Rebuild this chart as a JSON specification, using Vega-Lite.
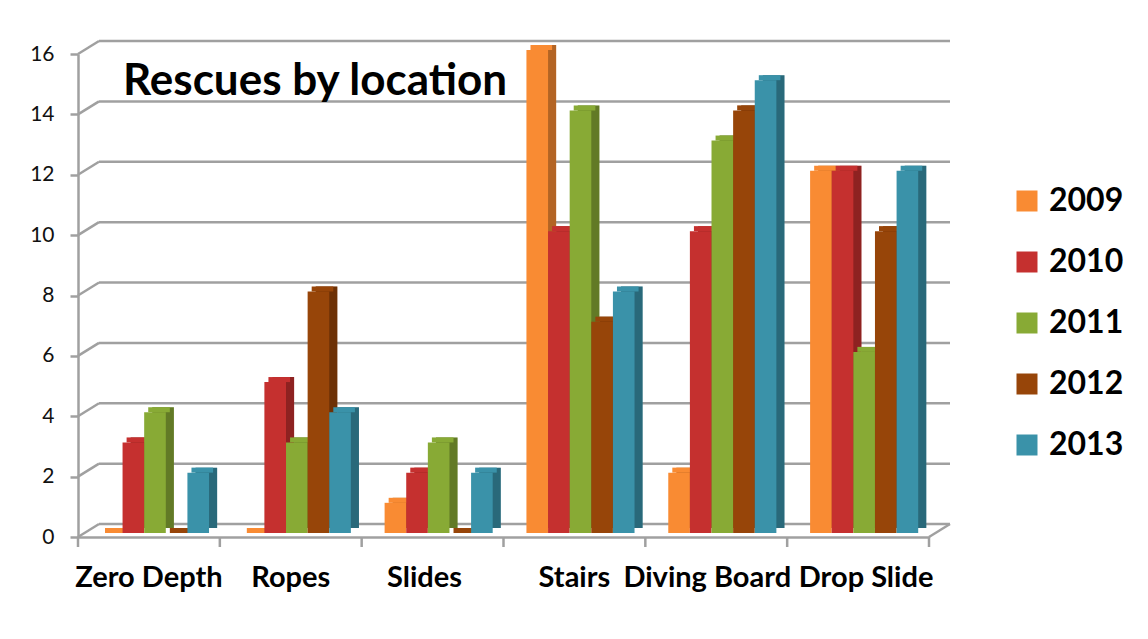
{
  "$schema": "https://vega.github.io/schema/vega-lite/v6.json",
  "width": 851,
  "height": 483,
  "autosize": {"type": "none"},
  "padding": {"left": 78, "top": 54, "right": 219, "bottom": 102},
  "background": "white",
  "config": {"view": {"stroke": null}, "font": "Lato"},
  "datasets": {
    "rescues": [
      {"location": "Zero Depth", "year": "2009", "value": 0},
      {"location": "Zero Depth", "year": "2010", "value": 3},
      {"location": "Zero Depth", "year": "2011", "value": 4},
      {"location": "Zero Depth", "year": "2012", "value": 0},
      {"location": "Zero Depth", "year": "2013", "value": 2},
      {"location": "Ropes", "year": "2009", "value": 0},
      {"location": "Ropes", "year": "2010", "value": 5},
      {"location": "Ropes", "year": "2011", "value": 3},
      {"location": "Ropes", "year": "2012", "value": 8},
      {"location": "Ropes", "year": "2013", "value": 4},
      {"location": "Slides", "year": "2009", "value": 1},
      {"location": "Slides", "year": "2010", "value": 2},
      {"location": "Slides", "year": "2011", "value": 3},
      {"location": "Slides", "year": "2012", "value": 0},
      {"location": "Slides", "year": "2013", "value": 2},
      {"location": "Stairs", "year": "2009", "value": 16},
      {"location": "Stairs", "year": "2010", "value": 10},
      {"location": "Stairs", "year": "2011", "value": 14},
      {"location": "Stairs", "year": "2012", "value": 7},
      {"location": "Stairs", "year": "2013", "value": 8},
      {"location": "Diving Board", "year": "2009", "value": 2},
      {"location": "Diving Board", "year": "2010", "value": 10},
      {"location": "Diving Board", "year": "2011", "value": 13},
      {"location": "Diving Board", "year": "2012", "value": 14},
      {"location": "Diving Board", "year": "2013", "value": 15},
      {"location": "Drop Slide", "year": "2009", "value": 12},
      {"location": "Drop Slide", "year": "2010", "value": 12},
      {"location": "Drop Slide", "year": "2011", "value": 6},
      {"location": "Drop Slide", "year": "2012", "value": 10},
      {"location": "Drop Slide", "year": "2013", "value": 12}
    ],
    "grid": [
      {"v": 0}, {"v": 2}, {"v": 4}, {"v": 6}, {"v": 8},
      {"v": 10}, {"v": 12}, {"v": 14}, {"v": 16}
    ],
    "floor": [{"v": 0}],
    "edges": [
      {"location": "Zero Depth", "v": 0},
      {"location": "Ropes", "v": 0},
      {"location": "Slides", "v": 0},
      {"location": "Stairs", "v": 0},
      {"location": "Diving Board", "v": 0},
      {"location": "Drop Slide", "v": 0}
    ],
    "heading": [{"label": "Rescues by location", "v": 16}]
  },
  "layer": [
    {
      "description": "back wall gridlines",
      "data": {"name": "grid"},
      "mark": {"type": "rule", "color": "#a0a0a0", "strokeWidth": 2.5, "xOffset": 21, "x2Offset": 21, "yOffset": -13},
      "encoding": {
        "x": {"datum": "Zero Depth", "type": "nominal", "bandPosition": 0},
        "x2": {"datum": "Drop Slide", "bandPosition": 1},
        "y": {"field": "v", "type": "quantitative"}
      }
    },
    {
      "description": "side wall connectors",
      "data": {"name": "grid"},
      "mark": {"type": "rule", "color": "#a0a0a0", "strokeWidth": 2.5, "x2Offset": 21, "y2Offset": -13},
      "encoding": {
        "x": {"datum": "Zero Depth", "type": "nominal", "bandPosition": 0},
        "x2": {"datum": "Zero Depth", "bandPosition": 0},
        "y": {"field": "v", "type": "quantitative"},
        "y2": {"field": "v"}
      }
    },
    {
      "description": "floor corner",
      "data": {"name": "floor"},
      "mark": {"type": "rule", "color": "#a0a0a0", "strokeWidth": 2.5, "x2Offset": 21, "y2Offset": -13},
      "encoding": {
        "x": {"datum": "Drop Slide", "type": "nominal", "bandPosition": 1},
        "x2": {"datum": "Drop Slide", "bandPosition": 1},
        "y": {"field": "v", "type": "quantitative"},
        "y2": {"field": "v"}
      }
    },
    {
      "description": "category boundary ticks",
      "data": {"name": "edges"},
      "mark": {"type": "rule", "color": "#a0a0a0", "strokeWidth": 2.5, "y2Offset": 10},
      "encoding": {
        "x": {"field": "location", "type": "nominal", "bandPosition": 0},
        "y": {"field": "v", "type": "quantitative"},
        "y2": {"field": "v"}
      }
    },
    {
      "description": "closing tick at the end of the category axis",
      "data": {"name": "floor"},
      "mark": {"type": "rule", "color": "#a0a0a0", "strokeWidth": 2.5, "y2Offset": 10},
      "encoding": {
        "x": {"datum": "Drop Slide", "type": "nominal", "bandPosition": 1},
        "y": {"field": "v", "type": "quantitative"},
        "y2": {"field": "v"}
      }
    },
    {
      "description": "chart heading inside the plot",
      "data": {"name": "heading"},
      "mark": {"type": "text", "align": "left", "baseline": "alphabetic", "dx": 45, "dy": 41, "font": "Lato", "fontSize": 44, "fontWeight": "bold", "color": "#000000"},
      "encoding": {
        "x": {"datum": "Zero Depth", "type": "nominal", "bandPosition": 0},
        "y": {"field": "v", "type": "quantitative"},
        "text": {"field": "label"}
      }
    },
    {
      "description": "bar side faces",
      "data": {"name": "rescues"},
      "mark": {"type": "bar", "yOffset": -9, "y2Offset": -9},
      "encoding": {
        "x": {"field": "location", "type": "nominal"},
        "xOffset": {"field": "year", "type": "nominal", "scale": {"paddingInner": 0, "paddingOuter": 0.78, "align": 0.92}},
        "y": {"field": "value", "type": "quantitative"},
        "color": {"field": "year", "type": "nominal"}
      }
    },
    {
      "description": "shading on the side faces",
      "data": {"name": "rescues"},
      "mark": {"type": "bar", "yOffset": -9, "y2Offset": -9, "color": "#000000", "opacity": 0.28},
      "encoding": {
        "x": {"field": "location", "type": "nominal"},
        "xOffset": {"field": "year", "type": "nominal", "scale": {"paddingInner": 0, "paddingOuter": 0.78, "align": 0.92}},
        "y": {"field": "value", "type": "quantitative"}
      }
    },
    {
      "description": "bar top faces",
      "data": {"name": "rescues"},
      "mark": {"type": "bar", "yOffset": -9, "y2Offset": -4},
      "encoding": {
        "x": {"field": "location", "type": "nominal"},
        "xOffset": {"field": "year", "type": "nominal", "scale": {"paddingInner": 0, "paddingOuter": 0.78, "align": 0.8}},
        "y": {"field": "value", "type": "quantitative"},
        "y2": {"field": "value"},
        "color": {"field": "year", "type": "nominal"}
      }
    },
    {
      "description": "bar front faces",
      "data": {"name": "rescues"},
      "mark": {"type": "bar", "yOffset": -4, "y2Offset": -4},
      "encoding": {
        "x": {
          "field": "location",
          "type": "nominal",
          "title": null,
          "scale": {"domain": ["Zero Depth", "Ropes", "Slides", "Stairs", "Diving Board", "Drop Slide"], "paddingInner": 0, "paddingOuter": 0},
          "axis": {
            "labelAngle": 0,
            "labelAlign": "center",
            "labelFont": "Lato",
            "labelFontSize": 29,
            "labelFontWeight": "bold",
            "labelColor": "#000000",
            "labelPadding": 40,
            "labelOffset": {
              "condition": [
                {"test": "datum.value === 'Slides'", "value": -8},
                {"test": "datum.value === 'Diving Board'", "value": -9},
                {"test": "datum.value === 'Drop Slide'", "value": 8}
              ],
              "value": 0
            },
            "ticks": false,
            "domainColor": "#a0a0a0",
            "domainWidth": 2.5,
            "grid": false
          }
        },
        "xOffset": {
          "field": "year",
          "type": "nominal",
          "scale": {"paddingInner": 0, "paddingOuter": 0.78, "align": 0.68}
        },
        "y": {
          "field": "value",
          "type": "quantitative",
          "title": null,
          "scale": {"domain": [0, 16], "nice": false},
          "axis": {
            "values": [0, 2, 4, 6, 8, 10, 12, 14, 16],
            "labelFont": "Lato",
            "labelFontSize": 21,
            "labelColor": "#111111",
            "labelPadding": 16,
            "tickSize": 8,
            "tickColor": "#a0a0a0",
            "tickWidth": 2.5,
            "domainColor": "#a0a0a0",
            "domainWidth": 2.5,
            "grid": false
          }
        },
        "color": {
          "field": "year",
          "type": "nominal",
          "scale": {"domain": ["2009", "2010", "2011", "2012", "2013"], "range": ["#f98b33", "#c5302f", "#88aa35", "#974509", "#3a92a9"]},
          "legend": {
            "orient": "none",
            "legendX": 933,
            "legendY": 131,
            "title": null,
            "padding": 0,
            "symbolType": "square",
            "symbolSize": 441,
            "symbolStrokeWidth": 0,
            "labelFont": "Lato",
            "labelFontSize": 32,
            "labelFontWeight": "bold",
            "labelColor": "#000000",
            "labelOffset": 6,
            "rowPadding": 29
          }
        }
      }
    }
  ],
  "resolve": {"scale": {"xOffset": "independent"}}
}
